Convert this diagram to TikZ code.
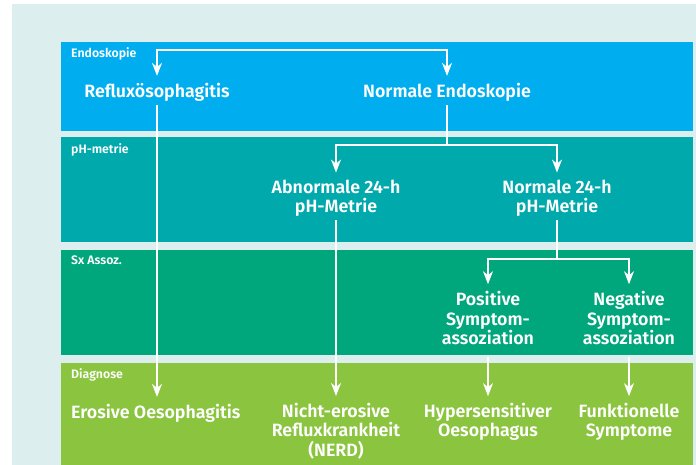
\documentclass[tikz,border=0pt]{standalone}
\usepackage{fontspec}
\setmainfont{Fira Sans}[BoldFont={Fira Sans SemiBold}]
\usetikzlibrary{arrows.meta,positioning,calc}
\definecolor{panelbg}{HTML}{DCEFEE}
\definecolor{endoblue}{HTML}{00AEEF}
\definecolor{phteal}{HTML}{00A9AC}
\definecolor{sxgreen}{HTML}{00A67C}
\definecolor{dxlime}{HTML}{8BC53F}

\tikzset{
  bandlabel/.style={anchor=base west,text=white,inner sep=0pt,font=\bfseries\fontsize{12.3}{14}\selectfont},
  finding/.style={text=white,align=center,inner sep=0pt,outer ysep=4pt,font=\bfseries\fontsize{17.8}{19.5}\selectfont},
  flow/.style={white,line width=1.3pt},
}

\begin{document}
\begin{tikzpicture}[x=1pt,y=-1pt,>={Stealth[length=13pt,width=10pt,inset=4pt]}]
  \useasboundingbox (0,0) rectangle (696,465);
  \fill[white] (0,0) rectangle (696,465);
  \fill[panelbg] (12,4) rectangle (696,465);

  % Bänder
  \fill[endoblue] (61,42) rectangle (693,131);
  \fill[phteal] (61,137) rectangle (693,242);
  \fill[sxgreen] (61,250) rectangle (693,355);
  \fill[dxlime] (61,363) rectangle (693,465);

  \node[bandlabel] (lblendo) at (71,58) {Endoskopie};
  \node[bandlabel] (lblph) at (71,154) {pH-metrie};
  \node[bandlabel] (lblsx) at (71,265) {Sx Assoz.};
  \node[bandlabel] (lbldx) at (71,378) {Diagnose};

  % Befunde
  \node[finding] (reflux) at (157,92) {Refluxösophagitis};
  \node[finding] (normend) at (447,92) {Normale Endoskopie};
  \node[finding] (abnorm) at (336,198) {Abnormale 24-h\\pH-Metrie};
  \node[finding] (normph) at (557,198) {Normale 24-h\\pH-Metrie};
  \node[finding] (pos) at (488,318) {Positive\\Symptom-\\assoziation};
  \node[finding] (neg) at (629,318) {Negative\\Symptom-\\assoziation};
  \node[finding,anchor=west] (erosive) at (71,413) {Erosive Oesophagitis};
  \node[finding] (nerd) at (336,431) {Nicht-erosive\\Refluxkrankheit\\(NERD)};
  \node[finding] (hyper) at (488,422) {Hypersensitiver\\Oesophagus};
  \node[finding] (funkt) at (629,422) {Funktionelle\\Symptome};

  % Verbindungen
  \coordinate (entry) at (300,50);
  \coordinate (splitph) at (normend.south |- 0,145);
  \coordinate (splitsx) at (normph.south |- 0,259);
  \draw[flow,<->,shorten <=3pt,shorten >=3pt] (reflux.north) |- (entry) -| (normend.north);
  \draw[flow,->,shorten >=3pt] (reflux.south) -- (reflux.south |- erosive.north);
  \draw[flow] (normend.south) -- (splitph);
  \draw[flow,->,shorten >=3pt] (splitph) -| (abnorm.north);
  \draw[flow,->,shorten >=3pt] (splitph) -| (normph.north);
  \draw[flow,->,shorten >=3pt] (abnorm.south) -- (nerd.north);
  \draw[flow] (normph.south) -- (splitsx);
  \draw[flow,->,shorten >=3pt] (splitsx) -| (pos.north);
  \draw[flow,->,shorten >=3pt] (splitsx) -| (neg.north);
  \draw[flow,->,shorten <=8pt,shorten >=3pt] (pos.south) -- (hyper.north);
  \draw[flow,->,shorten <=8pt,shorten >=3pt] (neg.south) -- (funkt.north);
\end{tikzpicture}
\end{document}
